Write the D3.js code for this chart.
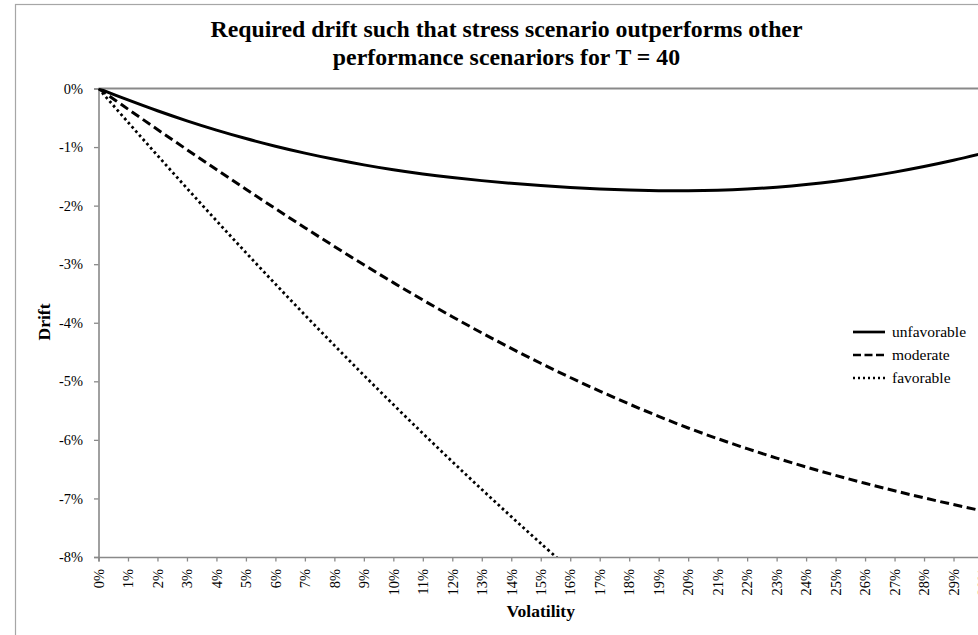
<!DOCTYPE html>
<html>
<head>
<meta charset="utf-8">
<script src="https://cdn.jsdelivr.net/npm/d3@7/dist/d3.min.js"></script>
<style>
  html, body { margin: 0; padding: 0; overflow: hidden; background: #fff; }
  svg { display: block; }
  text { font-family: "Liberation Serif", "Times New Roman", serif; fill: #000; }
</style>
</head>
<body>
<svg id="chart"></svg>
<script>
// Volatility categories (percent)
const volatility = [0, 1, 2, 3, 4, 5, 6, 7, 8, 9, 10, 11, 12, 13, 14, 15,
                    16, 17, 18, 19, 20, 21, 22, 23, 24, 25, 26, 27, 28, 29, 30];

// Required drift (percent) for each scenario
const unfavorable = [0, -0.195, -0.380, -0.552, -0.710, -0.854, -0.985, -1.103, -1.209, -1.304,
                     -1.388, -1.460, -1.521, -1.573, -1.618, -1.657, -1.690, -1.716, -1.734, -1.744,
                     -1.746, -1.738, -1.718, -1.685, -1.640, -1.582, -1.511, -1.428, -1.333, -1.226, -1.107];
const moderate = [0, -0.352, -0.700, -1.044, -1.384, -1.720, -2.051, -2.377, -2.697, -3.010,
                  -3.315, -3.611, -3.897, -4.173, -4.438, -4.692, -4.935, -5.167, -5.388, -5.598,
                  -5.797, -5.979, -6.150, -6.311, -6.463, -6.606, -6.741, -6.869, -6.990, -7.105, -7.215];
const favorable = [0, -0.575, -1.143, -1.704, -2.257, -2.802, -3.339, -3.867, -4.386, -4.896,
                   -5.397, -5.889, -6.372, -6.846, -7.311, -7.767, -8.214];

const driftTicks = [0, -1, -2, -3, -4, -5, -6, -7, -8];
const seriesNames = ["unfavorable", "moderate", "favorable"];
const titleLines = ["Required drift such that stress scenario outperforms other",
                    "performance scenariors for T = 40"];

const W = 1000, H = 650;
const plot = { left: 98.5, right: 983, top: 88.5, bottom: 557 };
const axisGray = "#898989";

const svg = d3.select("#chart").attr("width", W).attr("height", H);

// chart area frame
svg.append("rect")
  .attr("x", 15.5).attr("y", 4.5)
  .attr("width", 1100).attr("height", 800)
  .attr("fill", "#fff").attr("stroke", "#a6a6a6").attr("stroke-width", 1.2);

const x = d3.scaleLinear().domain([0, 30]).range([plot.left, plot.right]);
const y = d3.scaleLinear().domain([-8, 0]).range([plot.bottom, plot.top]);

const pct = v => (v < 0 ? "-" : "") + Math.abs(v) + "%";

// title
svg.append("text")
  .attr("x", 506.5).attr("text-anchor", "middle")
  .style("font-weight", "bold").style("font-size", "23.8px")
  .selectAll("tspan").data(titleLines).join("tspan")
  .attr("x", 506.5).attr("y", (d, i) => 37 + i * 27.5)
  .text(d => d);

// top border line of plot area
svg.append("line")
  .attr("x1", plot.left).attr("x2", W)
  .attr("y1", plot.top).attr("y2", plot.top)
  .attr("stroke", axisGray).attr("stroke-width", 1.8);

// y axis
const yAxis = svg.append("g")
  .attr("transform", `translate(${plot.left},0)`)
  .call(d3.axisLeft(y).tickValues(driftTicks).tickFormat(pct).tickSize(4.5).tickPadding(11));
yAxis.select(".domain").attr("stroke", axisGray).attr("stroke-width", 1.6);
yAxis.selectAll(".tick line").attr("stroke", axisGray).attr("stroke-width", 1.3);
yAxis.selectAll(".tick text")
  .style("font-family", "'Liberation Serif', 'Times New Roman', serif")
  .style("font-size", "14.4px").attr("fill", "#000");

// x axis
const xAxis = svg.append("g")
  .attr("transform", `translate(0,${plot.bottom})`)
  .call(d3.axisBottom(x).tickValues(volatility).tickFormat(d => d + "%").tickSize(4.5).tickPadding(0));
xAxis.select(".domain").attr("stroke", axisGray).attr("stroke-width", 1.6);
xAxis.selectAll(".tick line").attr("stroke", axisGray).attr("stroke-width", 1.3);
xAxis.selectAll(".tick text")
  .style("font-family", "'Liberation Serif', 'Times New Roman', serif")
  .style("font-size", "14.4px").attr("fill", "#000")
  .attr("text-anchor", "end")
  .attr("transform", "translate(0,12) rotate(-90)")
  .attr("x", 0).attr("y", 0).attr("dy", "0.33em");

// axis titles
svg.append("text")
  .attr("transform", "translate(50,322) rotate(-90)")
  .attr("text-anchor", "middle")
  .style("font-weight", "bold").style("font-size", "17.5px")
  .text("Drift");
svg.append("text")
  .attr("x", (plot.left + plot.right) / 2).attr("y", 617)
  .attr("text-anchor", "middle")
  .style("font-weight", "bold").style("font-size", "17.5px")
  .text("Volatility");

// clip lines to the plot area
svg.append("clipPath").attr("id", "plotClip")
  .append("rect")
  .attr("x", plot.left).attr("y", plot.top)
  .attr("width", plot.right - plot.left).attr("height", plot.bottom - plot.top);

const styles = {
  unfavorable: { dash: null, width: 3 },
  moderate: { dash: "9 4.5", width: 3 },
  favorable: { dash: "2.6 3", width: 2.8 }
};
const seriesData = { unfavorable, moderate, favorable };

const line = d3.line()
  .x((d, i) => x(volatility[i]))
  .y(d => y(d))
  .curve(d3.curveCatmullRom.alpha(0.5));

const lines = svg.append("g").attr("clip-path", "url(#plotClip)");
seriesNames.forEach(name => {
  lines.append("path")
    .datum(seriesData[name])
    .attr("d", line)
    .attr("fill", "none")
    .attr("stroke", "#000")
    .attr("stroke-width", styles[name].width)
    .attr("stroke-dasharray", styles[name].dash);
});

// legend
const legend = svg.append("g");
seriesNames.forEach((name, i) => {
  const ly = 332 + i * 23;
  legend.append("line")
    .attr("x1", 853).attr("x2", 885)
    .attr("y1", ly).attr("y2", ly)
    .attr("stroke", "#000")
    .attr("stroke-width", styles[name].width - 0.3)
    .attr("stroke-dasharray", name === "moderate" ? "8 3.5" : (name === "favorable" ? "2 3" : null));
  legend.append("text")
    .attr("x", 892).attr("y", ly).attr("dy", "0.33em")
    .style("font-size", "15.5px")
    .text(name);
});
</script>
</body>
</html>
